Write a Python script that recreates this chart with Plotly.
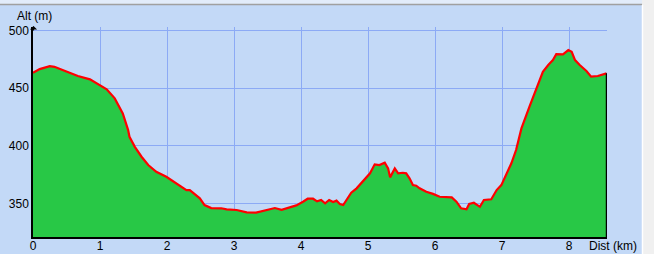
import plotly.graph_objects as go

dist_km = [0.00, 0.10, 0.25, 0.32, 0.47, 0.67, 0.85, 1.00, 1.10, 1.22, 1.34, 1.42, 1.44, 1.52,
           1.62, 1.72, 1.84, 1.99, 2.14, 2.29, 2.34, 2.49, 2.56, 2.66, 2.81, 2.89, 3.04, 3.19,
           3.33, 3.46, 3.61, 3.71, 3.81, 3.93, 4.03, 4.10, 4.18, 4.24, 4.30, 4.36, 4.42, 4.48,
           4.53, 4.58, 4.63, 4.68, 4.75, 4.83, 4.93, 5.03, 5.10, 5.17, 5.25, 5.30, 5.33, 5.40,
           5.45, 5.52, 5.57, 5.62, 5.67, 5.72, 5.77, 5.87, 5.97, 6.07, 6.25, 6.32, 6.39, 6.47,
           6.51, 6.58, 6.67, 6.73, 6.84, 6.92, 6.99, 7.07, 7.14, 7.21, 7.29, 7.41, 7.51, 7.61,
           7.69, 7.76, 7.81, 7.91, 7.99, 8.04, 8.09, 8.16, 8.26, 8.33, 8.43, 8.51, 8.56]
alt_m = [463.2, 466.4, 469.0, 468.4, 465.0, 460.4, 457.5, 452.6, 448.8, 441.0, 428.0, 413.5, 407.7, 399.0,
         390.4, 383.2, 377.4, 373.0, 367.3, 361.5, 361.5, 354.3, 348.5, 345.9, 345.7, 344.8, 344.2, 342.2,
         341.9, 343.6, 345.9, 344.4, 345.9, 348.2, 351.4, 354.0, 354.0, 351.7, 352.9, 350.0, 352.9, 351.1,
         352.3, 349.4, 348.5, 352.9, 359.2, 363.0, 369.6, 376.0, 383.8, 383.2, 385.2, 380.3, 372.5, 380.3,
         376.0, 376.5, 376.0, 371.7, 365.8, 365.3, 363.0, 360.0, 358.2, 355.7, 355.2, 351.4, 345.7, 344.8,
         349.4, 350.5, 347.0, 352.9, 353.5, 361.5, 365.8, 376.0, 384.7, 396.2, 415.0, 433.8, 449.7, 464.1,
         469.9, 474.2, 479.4, 479.2, 482.9, 481.4, 474.2, 469.9, 464.7, 459.8, 460.4, 462.1, 462.7]
x_ticks = [0, 1, 2, 3, 4, 5, 6, 7, 8]
y_ticks = [350, 400, 450, 500]

W, H = 654, 254
L, R, T, B = 33, 47, 27, 17
PW, PH = W - L - R, H - T - B
Y_MIN, Y_MAX = 320.8, 502.9
X_MAX = PW / 67.0

def px(xp):
    return (xp - L) / PW

def py(yp):
    return (H - B - yp) / PH

BG = "#C3D9F7"
FONT = dict(family="Liberation Sans, Arial, sans-serif", size=12, color="black")

fig = go.Figure()
fig.add_trace(go.Scatter(
    x=dist_km, y=alt_m, mode="lines", fill="tozeroy",
    fillcolor="#28C846", line=dict(color="#FF0000", width=2.2), hoverinfo="skip"))
fig.add_trace(go.Scatter(
    x=[dist_km[-1], dist_km[-1]], y=[Y_MIN, alt_m[-1]], mode="lines",
    line=dict(color="black", width=1.5), hoverinfo="skip"))

fig.update_layout(
    width=W, height=H, margin=dict(l=L, r=R, t=T, b=B, pad=0, autoexpand=False),
    paper_bgcolor=BG, plot_bgcolor=BG, showlegend=False, font=FONT,
    xaxis=dict(range=[0, X_MAX], tickvals=x_ticks, ticktext=[str(v) for v in x_ticks],
               showgrid=True, gridcolor="#8CAAF5", gridwidth=1, zeroline=False,
               showline=True, linecolor="black", linewidth=1.5, ticks="", ticklabelstandoff=-3,
               automargin=False, fixedrange=True),
    yaxis=dict(range=[Y_MIN, Y_MAX], tickvals=y_ticks, ticktext=[str(v) for v in y_ticks],
               showgrid=True, gridcolor="#8CAAF5", gridwidth=1, zeroline=False,
               showline=True, linecolor="black", linewidth=1.5, ticks="", ticklabelstandoff=0,
               automargin=False, fixedrange=True),
    shapes=[
        dict(type="rect", xref="paper", yref="paper", x0=px(0), x1=px(W), y0=py(4), y1=py(0),
             fillcolor="#E2ECFA", line=dict(width=0), layer="above"),
        dict(type="line", xref="paper", yref="paper", x0=px(0), x1=px(W), y0=py(4.5), y1=py(4.5),
             line=dict(color="#A0A0A0", width=1.5), layer="above"),
        dict(type="rect", xref="paper", yref="paper", x0=px(642), x1=px(W), y0=py(H), y1=py(0),
             fillcolor="#F0F0F0", line=dict(width=0), layer="above"),
        dict(type="line", xref="paper", yref="paper", x0=px(642.5), x1=px(642.5), y0=py(H), y1=py(5),
             line=dict(color="white", width=1.5), layer="above"),
    ],
    annotations=[
        dict(text="Alt (m)", xref="paper", yref="paper", x=px(34), y=py(16),
             showarrow=False, xanchor="center", yanchor="middle", font=FONT),
        dict(text="Dist (km)", xref="paper", yref="paper", x=px(587), y=py(246),
             showarrow=False, xanchor="left", yanchor="middle", font=FONT),
        dict(text="", xref="paper", yref="paper", x=px(33.5), y=py(26), ax=0, ay=6,
             axref="pixel", ayref="pixel", showarrow=True, arrowhead=1, arrowsize=1,
             arrowwidth=1.2, arrowcolor="black"),
    ],
)

fig.write_html("out.html")
